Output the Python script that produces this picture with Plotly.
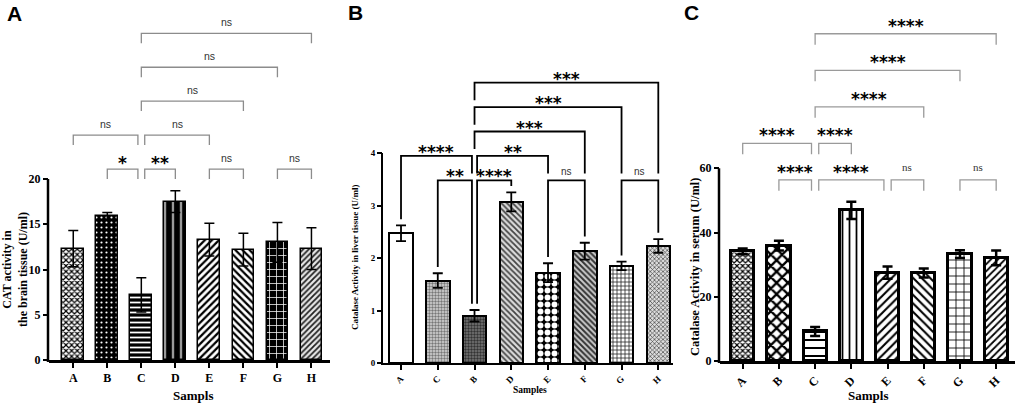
import plotly.graph_objects as go

# values
groups_brain = ["A", "B", "C", "D", "E", "F", "G", "H"]
brain_cat = [12.3, 15.9, 7.2, 17.5, 13.3, 12.2, 13.0, 12.3]
brain_sd = [2.0, 0.4, 1.9, 1.2, 1.8, 1.8, 2.2, 2.3]

groups_liver = ["A", "C", "B", "D", "E", "F", "G", "H"]
liver_cat = [2.47, 1.57, 0.90, 3.07, 1.72, 2.13, 1.85, 2.23]
liver_sd = [0.15, 0.14, 0.11, 0.18, 0.18, 0.16, 0.08, 0.13]

groups_serum = ["A", "B", "C", "D", "E", "F", "G", "H"]
serum_cat = [34.1, 35.9, 9.2, 46.9, 27.5, 27.4, 33.3, 32.1]
serum_sd = [0.9, 1.5, 1.4, 2.7, 1.9, 1.4, 1.2, 2.3]

# comparisons: (group i, group j, label, row)
brain_sig = [(1, 2, "*", 0), (2, 3, "**", 0), (4, 5, "ns", 0), (6, 7, "ns", 0),
             (0, 2, "ns", 1), (2, 4, "ns", 1), (2, 5, "ns", 2), (2, 6, "ns", 3), (2, 7, "ns", 4)]
liver_sig = [(1, 2, "**", 0), (2, 3, "****", 0), (4, 5, "ns", 0), (6, 7, "ns", 0),
             (0, 2, "****", 1), (2, 4, "**", 1), (2, 5, "***", 2), (2, 6, "***", 3), (2, 7, "***", 4)]
serum_sig = [(1, 2, "****", 0), (2, 4, "****", 0), (4, 5, "ns", 0), (6, 7, "ns", 0),
             (0, 2, "****", 1), (2, 3, "****", 1), (2, 5, "****", 2), (2, 6, "****", 3), (2, 7, "****", 4)]

W, H = 1021, 403
MB = 40
PH = H - MB  # plot area height in px

SERIF = "Liberation Serif"
SANS = "Liberation Sans"
STAR = "DejaVu Sans"

# fill patterns: shape, fg, bg, size, solidity
pat_brain = [("x", "black", "white", 4, 0.5), (".", "white", "black", 5, 0.15),
             ("-", "white", "black", 5, 0.35), ("|", "#9a9a9a", "black", 8, 0.3),
             ("/", "black", "white", 5, 0.45), ("\\", "black", "white", 5, 0.45),
             ("+", "white", "black", 7, 0.2), ("/", "#222222", "#e8e8e8", 4, 0.45)]
pat_liver = [("", "black", "white", 8, 0.3), (".", "#777777", "#d8d8d8", 3, 0.5),
             (".", "#333333", "#777777", 3, 0.5), ("\\", "#444444", "#dddddd", 4, 0.45),
             (".", "white", "black", 7, 0.55), ("\\", "#333333", "#cccccc", 4, 0.5),
             ("+", "#222222", "white", 4, 0.35), ("x", "#444444", "#dddddd", 3, 0.4)]
pat_serum = [("x", "black", "white", 4, 0.5), ("x", "black", "white", 8, 0.5),
             ("-", "black", "white", 8, 0.25), ("|", "black", "white", 7, 0.25),
             ("/", "black", "white", 6, 0.35), ("\\", "black", "white", 6, 0.35),
             ("+", "black", "white", 8, 0.2), ("/", "black", "white", 5, 0.35)]

panels = [
    dict(n="", letter="A", cats=groups_brain, vals=brain_cat, sd=brain_sd, sig=brain_sig, pat=pat_brain,
         xpx=(49, 330), xr=(-0.713, 7.545), y0px=360, scale=9.05, ticks=[0, 5, 10, 15, 20],
         lw=2.5, bar_lw=1.5, err_w=1.5, tickfont=12, tickangle=0,
         ytitle="CAT activity in<br>the brain tissue (U/ml)", ytitle_pos=(15, 270), ytitle_size=12,
         xtitle="Sampls", xtitle_pos=(193, 395), xtitle_size=13, letter_pos=(14, 14),
         br=dict(base=21.1, step=3.75, tip=1.1, lab=1.2, off=0.1, color="#8c8c8c", width=1.3,
                 to_bars=False, ns_font=SANS, ns_size=10.5, star_size=17)),
    dict(n="2", letter="B", cats=groups_liver, vals=liver_cat, sd=liver_sd, sig=liver_sig, pat=pat_liver,
         xpx=(383, 673), xr=(-0.49, 7.40), y0px=363, scale=52.5, ticks=[0, 1, 2, 3, 4],
         lw=2, bar_lw=2, err_w=1.8, tickfont=9, tickangle=-45,
         ytitle="Catalase Activity in liver tissue (U/ml)", ytitle_pos=(355, 257), ytitle_size=9,
         xtitle="Samples", xtitle_pos=(530, 390), xtitle_size=9.5, letter_pos=(355, 12),
         br=dict(base=3.48, step=0.465, lab=0.17, off=0.07, color="black", width=1.8,
                 to_bars=True, gap_bar=0.12, gap_br=0.13, ns_font=SANS, ns_size=10, star_size=17)),
    dict(n="3", letter="C", cats=groups_serum, vals=serum_cat, sd=serum_sd, sig=serum_sig, pat=pat_serum,
         xpx=(720, 1015), xr=(-0.627, 7.52), y0px=361, scale=3.212, ticks=[0, 20, 40, 60],
         lw=2.5, bar_lw=3, err_w=2.5, tickfont=12, tickangle=-45,
         ytitle="Catalase Activity in serum (U/ml)", ytitle_pos=(695, 267), ytitle_size=12.5,
         xtitle="Sampls", xtitle_pos=(868, 395), xtitle_size=13, letter_pos=(691, 12),
         br=dict(base=56.4, step=11.37, tip=3.4, lab=4.1, off=0.1, color="#9a9a9a", width=1.3,
                 to_bars=False, ns_font=SERIF, ns_size=11, star_size=17)),
]

fig = go.Figure()
shapes = []
annotations = []


def px_x(p):
    return p / W


def px_y(p):
    return (PH - p) / PH


for p in panels:
    xa, ya = "x" + p["n"], "y" + p["n"]
    n = len(p["cats"])
    xs = list(range(n))
    tops = [v + e for v, e in zip(p["vals"], p["sd"])]

    for k in xs:
        shp, fg, bg, sz, sol = p["pat"][k]
        fig.add_trace(go.Bar(
            x=[xs[k]], y=[p["vals"][k]], width=0.64, xaxis=xa, yaxis=ya, showlegend=False,
            marker=dict(color=bg, line=dict(color="black", width=p["bar_lw"]),
                        pattern=dict(shape=shp, fgcolor=fg, bgcolor=bg, size=sz,
                                     solidity=sol, fillmode="replace")),
            error_y=dict(type="data", array=[p["sd"][k]], color="black",
                         thickness=p["err_w"], width=5),
        ))

    ydom0 = (PH - p["y0px"]) / PH
    ytop = p["y0px"] / p["scale"]
    xdom = [px_x(p["xpx"][0]), px_x(p["xpx"][1])]

    fig.update_layout(**{
        ("xaxis" + p["n"]): dict(
            domain=xdom, range=list(p["xr"]), anchor=ya, showline=True, linecolor="black",
            linewidth=p["lw"], ticks="outside", ticklen=5, tickwidth=2, tickcolor="black",
            tickvals=xs, ticktext=p["cats"], tickangle=p["tickangle"], showgrid=False,
            zeroline=False, tickfont=dict(family=SERIF, size=p["tickfont"], color="black", weight="bold")),
        ("yaxis" + p["n"]): dict(
            domain=[ydom0, 1], range=[0, ytop], anchor=xa, showline=False, showgrid=False,
            zeroline=False, ticks="outside", ticklen=5, tickwidth=2, tickcolor="black",
            tickvals=p["ticks"], ticktext=[str(t) for t in p["ticks"]],
            tickfont=dict(family=SERIF, size=p["tickfont"], color="black", weight="bold")),
    })

    # y axis line only up to the last tick
    ax_top = ydom0 + (p["ticks"][-1] / ytop) * (1 - ydom0)
    shapes.append(dict(type="line", xref="paper", yref="paper",
                       x0=xdom[0] - 1 / W, x1=xdom[0] - 1 / W, y0=ydom0 - 2 / PH, y1=ax_top,
                       line=dict(color="black", width=p["lw"])))

    # significance brackets
    b = p["br"]
    sig = p["sig"]

    def leg_bottom(k, lev):
        obs = [tops[k] + b["gap_bar"]]
        for i2, j2, _, l2 in sig:
            if l2 < lev and i2 <= k <= j2:
                obs.append(b["base"] + l2 * b["step"] + b["gap_br"])
        return max(obs)

    for i, j, lab, lev in sig:
        y = b["base"] + lev * b["step"]
        x0 = i + (b["off"] if any(s[1] == i and s[3] == lev for s in sig) else 0)
        x1 = j - (b["off"] if any(s[0] == j and s[3] == lev for s in sig) else 0)
        if b["to_bars"]:
            yl, yr = leg_bottom(i, lev), leg_bottom(j, lev)
        else:
            yl = yr = y - b["tip"]
        shapes.append(dict(type="path", xref=xa, yref=ya,
                           path=f"M{x0},{yl} L{x0},{y} L{x1},{y} L{x1},{yr}",
                           line=dict(color=b["color"], width=b["width"])))
        star = lab.startswith("*")
        annotations.append(dict(
            x=(x0 + x1) / 2, y=y + b["lab"], xref=xa, yref=ya, showarrow=False,
            text=lab, xanchor="center", yanchor="middle",
            yshift=-5 if star else 0,
            font=dict(family=STAR if star else b["ns_font"], size=b["star_size"] if star else b["ns_size"],
                      color="black" if star else "#333333", weight="bold" if star else "normal")))

    # axis titles and panel letter
    tx, ty = p["ytitle_pos"]
    annotations.append(dict(x=px_x(tx), y=px_y(ty), xref="paper", yref="paper", showarrow=False,
                            text=p["ytitle"], textangle=-90, xanchor="center", yanchor="middle",
                            font=dict(family=SERIF, size=p["ytitle_size"], color="black", weight="bold")))
    tx, ty = p["xtitle_pos"]
    annotations.append(dict(x=px_x(tx), y=px_y(ty), xref="paper", yref="paper", showarrow=False,
                            text=p["xtitle"], xanchor="center", yanchor="middle",
                            font=dict(family=SERIF, size=p["xtitle_size"], color="black", weight="bold")))
    tx, ty = p["letter_pos"]
    annotations.append(dict(x=px_x(tx), y=px_y(ty), xref="paper", yref="paper", showarrow=False,
                            text=p["letter"], xanchor="center", yanchor="middle",
                            font=dict(family=SANS, size=21, color="black", weight="bold")))

fig.update_layout(
    width=W, height=H,
    margin=dict(l=0, r=0, t=0, b=MB),
    paper_bgcolor="white", plot_bgcolor="white",
    bargap=0, shapes=shapes, annotations=annotations,
)

fig.write_html("out.html", config={"displayModeBar": False},
               post_script="document.body.style.margin='0';")
